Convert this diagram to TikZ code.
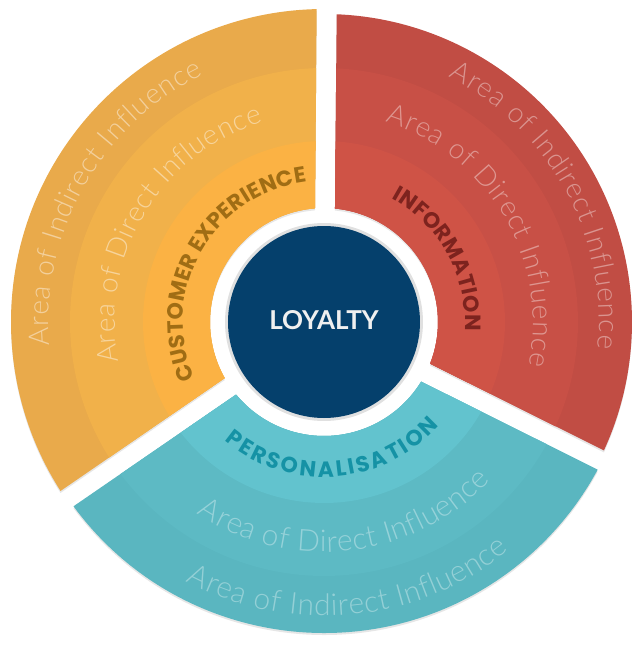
\documentclass[tikz,border=0pt]{standalone}
\usepackage{fontspec}
\setmainfont{Lato}
\newfontfamily\thinfont{Lato Light}
\newfontfamily\headfont{Poppins}
\usetikzlibrary{decorations.text}
\usetikzlibrary{shadows}

\definecolor{navy}{HTML}{05406C}
\definecolor{orout}{HTML}{E9AA4B}
\definecolor{ormid}{HTML}{F1B14A}
\definecolor{orin}{HTML}{FBB244}
\definecolor{orhead}{HTML}{A06D14}
\definecolor{rdout}{HTML}{C14D44}
\definecolor{rdmid}{HTML}{C85046}
\definecolor{rdin}{HTML}{CF5346}
\definecolor{rdhead}{HTML}{7D231E}
\definecolor{tlout}{HTML}{5AB6C0}
\definecolor{tlmid}{HTML}{5DBAC4}
\definecolor{tlin}{HTML}{62C3CE}
\definecolor{tlhead}{HTML}{1592A5}

\newcommand\gp{10}
\newcommand\band[5]{%
  \fill[#5] ({#1+asin(\gp/#4)}:#4pt)
    arc[start angle={#1+asin(\gp/#4)}, end angle={#2-asin(\gp/#4)}, radius=#4pt]
    -- ({#2-asin(\gp/#3)}:#3pt)
    arc[start angle={#2-asin(\gp/#3)}, end angle={#1+asin(\gp/#3)}, radius=#3pt] -- cycle;}
\newcommand\headtext[5]{%
  \path[decorate, decoration={text along path, text align=fit to path, text color=#4,
    text={|\headfont\bfseries\fontsize{22}{22}\selectfont|#5}}]
    (#2:#1pt) arc[start angle=#2, end angle=#3, radius=#1pt];}
\newcommand\thintext[6]{%
  \path[decorate, decoration={text along path, text align=fit to path, text color=#4,
    text={|\thinfont\fontsize{#6}{#6}\selectfont|#5}}]
    (#2:#1pt) arc[start angle=#2, end angle=#3, radius=#1pt];}

\begin{document}
\begin{tikzpicture}[shadowed/.style={drop shadow={opacity=.2,shadow xshift=0pt,shadow yshift=-2pt}}]
    \useasboundingbox (-324pt,-324pt) rectangle (316pt,322pt);
    \begin{scope}
      \band{89.5}{214.5}{114}{313}{orout,shadowed}
      \band{89.5}{214.5}{114}{254}{ormid}
      \band{89.5}{214.5}{114}{181}{orin}
      \headtext{141}{203.5}{97}{orhead}{CUSTOMER EXPERIENCE}
      \thintext{209}{191}{107}{white!45!ormid}{Area of Direct Influence}{28}
      \thintext{275}{185}{116}{white!45!orout}{Area of Indirect Influence}{28}
    \end{scope}
    \begin{scope}
      \band{-26.5}{89.5}{114}{308}{rdout,shadowed}
      \band{-26.5}{89.5}{114}{254}{rdmid}
      \band{-26.5}{89.5}{114}{181}{rdin}
      \headtext{141}{61.5}{-3.5}{rdhead}{INFORMATION}
      \thintext{209}{73}{-12}{white!40!rdmid}{Area of Direct Influence}{28}
      \thintext{275}{63}{-5.5}{white!40!rdout}{Area of Indirect Influence}{28}
    \end{scope}
    \begin{scope}
      \band{214.5}{333.5}{114}{311}{tlout,shadowed}
      \band{214.5}{333.5}{114}{254}{tlmid}
      \band{214.5}{333.5}{114}{181}{tlin}
      \headtext{155}{230}{318}{tlhead}{PERSONALISATION}
      \thintext{230}{236.5}{316.5}{white!35!tlmid}{Area of Direct Influence}{30}
      \thintext{294}{242}{309}{white!35!tlout}{Area of Indirect Influence}{30}
    \end{scope}
    \fill[black!12] (0,0) circle[radius=99pt];
    \node[circle, fill=navy, minimum size=192pt, inner sep=0pt, text=white!94!black,
      font=\bfseries\fontsize{26}{26}\selectfont] (core) at (0,0) {\raisebox{4pt}{LOYALTY}};
  \end{tikzpicture}
\end{document}
